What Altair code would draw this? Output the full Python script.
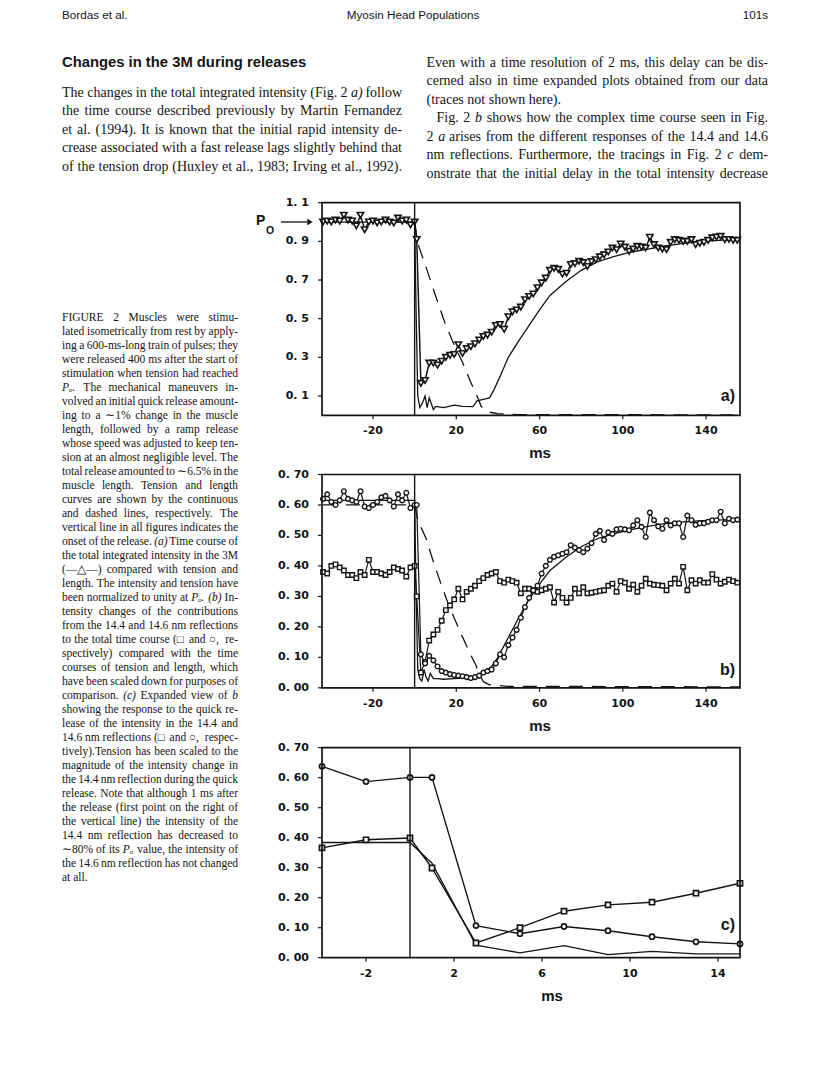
import altair as alt
import pandas as pd

# ===================== DATA =====================
# sampling of the X-ray frames: every 2 ms before the release, odd ms after it
t_pre = list(range(-44, 1, 2))
t_post = list(range(1, 156, 2))

# ---- panel a : total integrated intensity (triangles), tension, length
a_tri_pre = [1.0, 1.005, 1.0, 1.01, 1.005, 1.035, 1.01, 1.005, 0.98, 1.035, 0.96, 1.0,
             1.005, 0.995, 1.0, 1.01, 1.0, 0.995, 1.02, 1.005, 1.01, 0.985, 1.0]
a_tri_post = [0.91, 0.165, 0.18, 0.27, 0.27, 0.26, 0.28, 0.30, 0.31, 0.315,
              0.365, 0.32, 0.345, 0.355, 0.37, 0.39, 0.408, 0.415, 0.43, 0.465,
              0.47, 0.445, 0.51, 0.535, 0.545, 0.56, 0.598, 0.615, 0.628, 0.66,
              0.685, 0.71, 0.75, 0.76, 0.755, 0.73, 0.735, 0.78, 0.785, 0.797,
              0.79, 0.77, 0.795, 0.805, 0.82, 0.83, 0.845, 0.866, 0.857, 0.886,
              0.87, 0.848, 0.86, 0.874, 0.87, 0.866, 0.921, 0.883, 0.866, 0.86,
              0.857, 0.895, 0.909, 0.905, 0.9, 0.9, 0.909, 0.883, 0.89, 0.895,
              0.905, 0.918, 0.922, 0.926, 0.909, 0.91, 0.905, 0.905]
a_ten_t = [-44, 0, 0.6, 1.5, 2.5, 4, 5, 6, 7, 8, 9, 10, 11, 14, 19, 23, 28, 30, 34, 36,
           38, 41, 45, 50, 55, 60, 65, 73, 80, 88, 96, 104, 112, 120, 128, 136, 144, 156]
a_ten_v = [1.0, 1.0, 0.6, 0.10, 0.04, 0.07, 0.10, 0.04, 0.09, 0.06, 0.03, 0.045, 0.045, 0.04,
           0.053, 0.046, 0.045, 0.075, 0.085, 0.09, 0.13, 0.2, 0.30, 0.385, 0.465, 0.545, 0.62,
           0.695, 0.75, 0.795, 0.822, 0.845, 0.86, 0.875, 0.888, 0.897, 0.904, 0.912]
a_len_t = [-44, 0, 1.5, 6, 10, 14.5, 19.5, 23, 27, 30, 32, 35, 40, 50, 156]
a_len_v = [1.0, 1.0, 0.89, 0.75, 0.62, 0.48, 0.35, 0.275, 0.17, 0.10, 0.045, 0.018, 0.008, 0.004, 0.002]

# ---- panel b : 14.6 nm (circles), 14.4 nm (squares), scaled tension and length
b_circ_pre = [0.62, 0.635, 0.61, 0.60, 0.615, 0.645, 0.62, 0.615, 0.61, 0.645, 0.595, 0.59,
              0.60, 0.61, 0.625, 0.63, 0.615, 0.595, 0.635, 0.615, 0.64, 0.59, 0.60]
b_circ_post = [0.60, 0.11, 0.08, 0.105, 0.09, 0.07, 0.055, 0.05, 0.045, 0.042,
               0.04, 0.038, 0.035, 0.032, 0.035, 0.04, 0.05, 0.055, 0.06, 0.08,
               0.11, 0.10, 0.14, 0.165, 0.19, 0.23, 0.265, 0.295, 0.32, 0.335,
               0.375, 0.40, 0.42, 0.43, 0.435, 0.44, 0.445, 0.468, 0.46, 0.452,
               0.445, 0.457, 0.475, 0.505, 0.515, 0.485, 0.51, 0.505, 0.52, 0.522,
               0.52, 0.517, 0.533, 0.55, 0.528, 0.495, 0.575, 0.55, 0.53, 0.522,
               0.55, 0.533, 0.54, 0.54, 0.495, 0.565, 0.55, 0.535, 0.54, 0.54,
               0.545, 0.55, 0.55, 0.578, 0.54, 0.555, 0.55, 0.552]
b_sq_pre = [0.38, 0.375, 0.40, 0.405, 0.395, 0.385, 0.37, 0.37, 0.36, 0.38, 0.37, 0.42,
            0.38, 0.38, 0.375, 0.37, 0.38, 0.395, 0.39, 0.385, 0.365, 0.395, 0.40]
b_sq_post = [0.30, 0.05, 0.085, 0.155, 0.175, 0.19, 0.22, 0.255, 0.27, 0.29,
             0.325, 0.29, 0.315, 0.325, 0.335, 0.35, 0.36, 0.37, 0.375, 0.38,
             0.35, 0.345, 0.355, 0.35, 0.345, 0.31, 0.325, 0.325, 0.32, 0.315,
             0.32, 0.325, 0.33, 0.28, 0.315, 0.295, 0.28, 0.295, 0.325, 0.31,
             0.33, 0.31, 0.312, 0.315, 0.318, 0.32, 0.335, 0.342, 0.315, 0.35,
             0.345, 0.325, 0.338, 0.315, 0.335, 0.358, 0.342, 0.338, 0.337, 0.335,
             0.32, 0.342, 0.358, 0.342, 0.397, 0.32, 0.353, 0.342, 0.353, 0.345,
             0.345, 0.373, 0.355, 0.342, 0.348, 0.355, 0.35, 0.345]
b_ten_t = [-44, 0, 0.6, 1.5, 2.5, 3.5, 4.5, 5.5, 6.5, 7.5, 9, 11, 14, 19, 24, 28, 31, 34, 37, 40,
           45, 50, 55, 60, 65, 73, 80, 88, 96, 104, 112, 120, 128, 136, 144, 156]
b_ten_v = [0.615, 0.615, 0.35, 0.06, 0.03, 0.022, 0.06, 0.035, 0.022, 0.047, 0.03, 0.03, 0.028,
           0.03, 0.032, 0.031, 0.04, 0.053, 0.07, 0.10, 0.165, 0.23, 0.29, 0.34, 0.385, 0.43,
           0.463, 0.49, 0.506, 0.519, 0.53, 0.539, 0.544, 0.548, 0.55, 0.553]
b_len_t = [-44, 0, 1.5, 5.5, 8.7, 12.7, 15.9, 19.9, 22.3, 27.1, 29.5, 31, 33, 36, 45, 156]
b_len_v = [0.6, 0.6, 0.55, 0.49, 0.42, 0.34, 0.28, 0.215, 0.177, 0.106, 0.073, 0.045, 0.02, 0.01, 0.005, 0.003]

# ---- panel c : expanded view
c_t = [-4, -2, 0, 1, 3, 5, 7, 9, 11, 13, 15]
c_circ = [0.638, 0.587, 0.601, 0.601, 0.107, 0.080, 0.104, 0.090, 0.070, 0.053, 0.046]
c_sq = [0.366, 0.393, 0.399, 0.299, 0.049, 0.100, 0.155, 0.176, 0.185, 0.215, 0.248]
c_ten = [0.384, 0.384, 0.384, 0.315, 0.042, 0.016, 0.040, 0.010, 0.021, 0.013, 0.013]

# ---- axes
ab_xticks = [-20, 20, 60, 100, 140]
ab_xlabels = ["-20", "20", "60", "100", "140"]
a_yticks = [0.1, 0.3, 0.5, 0.7, 0.9, 1.1]
a_ylabels = ["0. 1", "0. 3", "0. 5", "0. 7", "0. 9", "1. 1"]
bc_yticks = [0.0, 0.1, 0.2, 0.3, 0.4, 0.5, 0.6, 0.7]
bc_ylabels = ["0. 00", "0. 10", "0. 20", "0. 30", "0. 40", "0. 50", "0. 60", "0. 70"]
c_xticks = [-2, 2, 6, 10, 14]
c_xlabels = ["-2", "2", "6", "10", "14"]

# ---- page text
header_left = "Bordas et al."
header_mid = "Myosin Head Populations"
header_right = "101s"
heading = "Changes in the 3M during releases"
left_col = [
    "The changes in the total integrated intensity (Fig. 2 _a)_ follow",
    "the time course described previously by Martin Fernandez",
    "et al. (1994). It is known that the initial rapid intensity de-",
    "crease associated with a fast release lags slightly behind that",
    "of the tension drop (Huxley et al., 1983; Irving et al., 1992).",
]
right_col = [
    "Even with a time resolution of 2 ms, this delay can be dis-",
    "cerned also in time expanded plots obtained from our data",
    "(traces not shown here).",
    "Fig. 2 _b_ shows how the complex time course seen in Fig.",
    "2 _a_ arises from the different responses of the 14.4 and 14.6",
    "nm reflections. Furthermore, the tracings in Fig. 2 _c_ dem-",
    "onstrate that the initial delay in the total intensity decrease",
]
caption = [
    "FIGURE 2  Muscles were stimu-",
    "lated isometrically from rest by apply-",
    "ing a 600-ms-long train of pulses; they",
    "were released 400 ms after the start of",
    "stimulation when tension had reached",
    "_Pₒ._ The mechanical maneuvers in-",
    "volved an initial quick release amount-",
    "ing to a ∼1% change in the muscle",
    "length, followed by a ramp release",
    "whose speed was adjusted to keep ten-",
    "sion at an almost negligible level. The",
    "total release amounted to ∼6.5% in the",
    "muscle length. Tension and length",
    "curves are shown by the continuous",
    "and dashed lines, respectively. The",
    "vertical line in all figures indicates the",
    "onset of the release. _(a)_ Time course of",
    "the total integrated intensity in the 3M",
    "(—△—) compared with tension and",
    "length. The intensity and tension have",
    "been normalized to unity at _Pₒ._ _(b)_ In-",
    "tensity changes of the contributions",
    "from the 14.4 and 14.6 nm reflections",
    "to the total time course (□ and ○, re-",
    "spectively) compared with the time",
    "courses of tension and length, which",
    "have been scaled down for purposes of",
    "comparison. _(c)_ Expanded view of _b_",
    "showing the response to the quick re-",
    "lease of the intensity in the 14.4 and",
    "14.6 nm reflections (□ and ○, respec-",
    "tively).Tension has been scaled to the",
    "magnitude of the intensity change in",
    "the 14.4 nm reflection during the quick",
    "release. Note that although 1 ms after",
    "the release (first point on the right of",
    "the vertical line) the intensity of the",
    "14.4 nm reflection has decreased to",
    "∼80% of its _Pₒ_ value, the intensity of",
    "the 14.6 nm reflection has not changed",
    "at all.",
]

# ===================== STYLE / GEOMETRY =====================
W, H = 800, 1060
M = 8                      # page margin of the html body
INK = "#141414"
FX0, FX1 = 322, 740        # left / right edge of every panel frame (page px)
AX_FONT = "DejaVu Sans"

# Times (Liberation Serif) advance widths, 1/1000 em, used to justify text lines
TIMES = {' ': 250, '!': 333, '%': 833, '(': 333, ')': 333, ',': 250, '-': 333, '.': 250,
         ':': 278, ';': 278, '?': 444, '—': 1000, '△': 770, '□': 770, '○': 870, '∼': 840, 'ₒ': 420,
         'A': 722, 'B': 667, 'C': 667, 'D': 722, 'E': 611, 'F': 556, 'G': 722, 'H': 722, 'I': 333,
         'J': 389, 'K': 722, 'L': 611, 'M': 889, 'N': 722, 'O': 722, 'P': 556, 'Q': 722, 'R': 667,
         'S': 556, 'T': 611, 'U': 722, 'V': 722, 'W': 944, 'X': 722, 'Y': 722, 'Z': 611,
         'a': 444, 'b': 500, 'c': 444, 'd': 500, 'e': 444, 'f': 333, 'g': 500, 'h': 500, 'i': 278,
         'j': 278, 'k': 500, 'l': 278, 'm': 778, 'n': 500, 'o': 500, 'p': 500, 'q': 500, 'r': 333,
         's': 389, 't': 278, 'u': 500, 'v': 500, 'w': 722, 'x': 500, 'y': 500, 'z': 444}


def tw(s, size):
    return sum(TIMES.get(ch, 500) for ch in s) / 1000.0 * size


def justify(lines, x0, width, base0, lead, size, free=(), indents=None):
    rows = []
    indents = indents or {}
    space = tw(' ', size)
    for i, line in enumerate(lines):
        toks = [w for w in line.split(' ') if w]
        clean = []
        for w in toks:
            ital = len(w) > 2 and w[0] == '_' and w[-1] == '_'
            clean.append((w[1:-1] if ital else w, ital))
        widths = [tw(w, size) for w, _ in clean]
        ind = indents.get(i, 0)
        if i in free or len(clean) < 2:
            gap = space
        else:
            gap = max((width - ind - sum(widths)) / (len(clean) - 1), 0.6 * space)
        x = x0 + ind
        for (w, ital), wd in zip(clean, widths):
            rows.append({'w': w, 'x': x - M, 'y': base0 + i * lead - M, 'it': ital})
            x += wd + gap
    return pd.DataFrame(rows)


def text_block(df, size):
    base = alt.Chart(df).encode(
        x=alt.X('x:Q', scale=None, axis=None),
        y=alt.Y('y:Q', scale=None, axis=None),
        text='w:N')
    kw = dict(align='left', baseline='alphabetic', font='Liberation Serif', fontSize=size, color=INK)
    rom = base.transform_filter('!datum.it').mark_text(**kw)
    ita = base.transform_filter('datum.it').mark_text(fontStyle='italic', **kw)
    return [rom, ita]


def label(s, x, y, size, font='Liberation Sans', weight='normal', align='left', baseline='alphabetic'):
    return alt.Chart(pd.DataFrame({'s': [s]})).mark_text(
        align=align, baseline=baseline, font=font, fontSize=size, fontWeight=weight, color=INK
    ).encode(text='s:N', x=alt.value(x - M), y=alt.value(y - M))


def panel(xdom, ydom, top, bottom, series, xticks, xlabels, yticks, ylabels, tag, tag_y, ms_x):
    sx = alt.Scale(domain=xdom, range=[FX0 - M, FX1 - M], nice=False, zero=False)
    sy = alt.Scale(domain=ydom, range=[bottom - M, top - M], nice=False, zero=False)

    def X(f):
        return alt.X(f, type='quantitative', scale=sx, axis=None)

    def Y(f):
        return alt.Y(f, type='quantitative', scale=sy, axis=None)

    layers = []
    for s in series:
        df = pd.DataFrame({'t': s['t'], 'v': s['v']})
        kw = dict(color=INK, strokeWidth=s.get('sw', 1.3))
        if 'dash' in s:
            kw['strokeDash'] = s['dash']
        layers.append(alt.Chart(df).mark_line(**kw).encode(x=X('t'), y=Y('v')))
        if 'shape' in s:
            layers.append(alt.Chart(df).mark_point(
                shape=s['shape'], size=s['size'], filled=True, fill='white', stroke=INK,
                strokeWidth=s.get('msw', 1.3), opacity=1).encode(x=X('t'), y=Y('v')))
    # vertical line marking the onset of the release
    vl = pd.DataFrame({'x': [0], 'y0': [ydom[0]], 'y1': [ydom[1]]})
    layers.append(alt.Chart(vl).mark_rule(color=INK, strokeWidth=1.4).encode(x=X('x'), y=Y('y0'), y2='y1'))
    # frame
    fr = pd.DataFrame({'x0': [xdom[0]], 'x1': [xdom[1]], 'y0': [ydom[0]], 'y1': [ydom[1]]})
    layers.append(alt.Chart(fr).mark_rect(fill='transparent', stroke=INK, strokeWidth=1.7).encode(
        x=X('x0'), x2='x1', y=Y('y0'), y2='y1'))
    # x ticks + labels
    xt = pd.DataFrame({'t': xticks, 'lab': xlabels, 'y0': [ydom[0]] * len(xticks)})
    layers.append(alt.Chart(xt).mark_rule(color=INK, strokeWidth=1.2, y2Offset=4).encode(
        x=X('t'), y=Y('y0'), y2='y0'))
    layers.append(alt.Chart(xt).mark_text(dy=16, align='center', baseline='middle', font=AX_FONT,
                                          fontWeight='bold', fontSize=11, color=INK).encode(
        x=X('t'), y=Y('y0'), text='lab:N'))
    # y ticks + labels
    yt = pd.DataFrame({'v': yticks, 'lab': ylabels, 'x0': [xdom[0]] * len(yticks)})
    layers.append(alt.Chart(yt).mark_rule(color=INK, strokeWidth=1.2, x2Offset=-4).encode(
        x=X('x0'), x2='x0', y=Y('v')))
    layers.append(alt.Chart(yt).mark_text(dx=-13, align='right', baseline='middle', font=AX_FONT,
                                          fontWeight='bold', fontSize=11, color=INK).encode(
        x=X('x0'), y=Y('v'), text='lab:N'))
    layers.append(label('ms', ms_x, bottom + 38, 15, weight='bold', align='center', baseline='middle'))
    layers.append(label(tag, FX1 - 5, tag_y, 16, weight='bold', align='right'))
    return alt.layer(*layers)


XD = [-44.5, 156.3]
pa = panel(XD, [0, 1.1], 202.7, 415.3,
           [dict(t=a_ten_t, v=a_ten_v, sw=1.3),
            dict(t=a_len_t, v=a_len_v, sw=1.3, dash=[14, 9]),
            dict(t=t_pre + t_post, v=a_tri_pre + a_tri_post, sw=1.5, shape='triangle-down',
                 size=40, msw=1.6)],
           ab_xticks, ab_xlabels, a_yticks, a_ylabels, 'a)', 401, 540)

pb = panel(XD, [0, 0.7], 474.5, 687.8,
           [dict(t=b_ten_t, v=b_ten_v, sw=1.3),
            dict(t=b_len_t, v=b_len_v, sw=1.3, dash=[14, 9]),
            dict(t=t_pre + t_post, v=b_sq_pre + b_sq_post, sw=1.2, shape='square', size=20, msw=1.4),
            dict(t=t_pre + t_post, v=b_circ_pre + b_circ_post, sw=1.2, shape='circle', size=22, msw=1.4)],
           ab_xticks, ab_xlabels, bc_yticks, bc_ylabels, 'b)', 675, 540)

pc = panel([-4, 15], [0, 0.7], 747.7, 957.7,
           [dict(t=c_t, v=c_ten, sw=1.3),
            dict(t=c_t, v=c_sq, sw=1.4, shape='square', size=26, msw=1.7),
            dict(t=c_t, v=c_circ, sw=1.4, shape='circle', size=26, msw=1.7)],
           c_xticks, c_xlabels, bc_yticks, bc_ylabels, 'c)', 930, 552)

# P0 marker with arrow at the level 1.0 of panel a
po_layers = [
    label('P', 256, 225, 14, weight='bold'),
    label('O', 266, 234, 10.5, weight='bold'),
    alt.Chart(pd.DataFrame({'k': [0]})).mark_rule(color=INK, strokeWidth=1.3).encode(
        x=alt.value(281 - M), x2=alt.value(307 - M), y=alt.value(222 - M)),
    alt.Chart(pd.DataFrame({'k': [0]})).mark_point(shape='triangle-right', filled=True, color=INK,
                                                   size=40, opacity=1).encode(
        x=alt.value(310 - M), y=alt.value(222 - M)),
]

BODY = 14.0
CAP = 11.5
LEAD = 18.5
text_layers = []
text_layers += [label(header_left, 62, 18.5, 11.7),
                label(header_mid, 413, 18.5, 11.7, align='center'),
                label(header_right, 768, 18.5, 11.7, align='right'),
                label(heading, 62, 67, 14.8, weight='bold')]
text_layers += text_block(justify(left_col, 62, 340, 96.5, LEAD, BODY), BODY)
text_layers += text_block(justify(right_col, 426.5, 341.5, 66.5, LEAD, BODY, free=(2,), indents={3: 10}), BODY)
text_layers += text_block(justify(caption, 62, 176, 321, 14.0, CAP, free=(len(caption) - 1,)), CAP)

chart = alt.layer(pa, pb, pc, *po_layers, *text_layers).resolve_scale(
    x='independent', y='independent'
).properties(
    width=W, height=H, autosize=alt.AutoSizeParams(type='none'), padding=0
).configure_view(strokeWidth=0)

chart.save("out.html", embed_options={"renderer": "svg", "actions": False})
